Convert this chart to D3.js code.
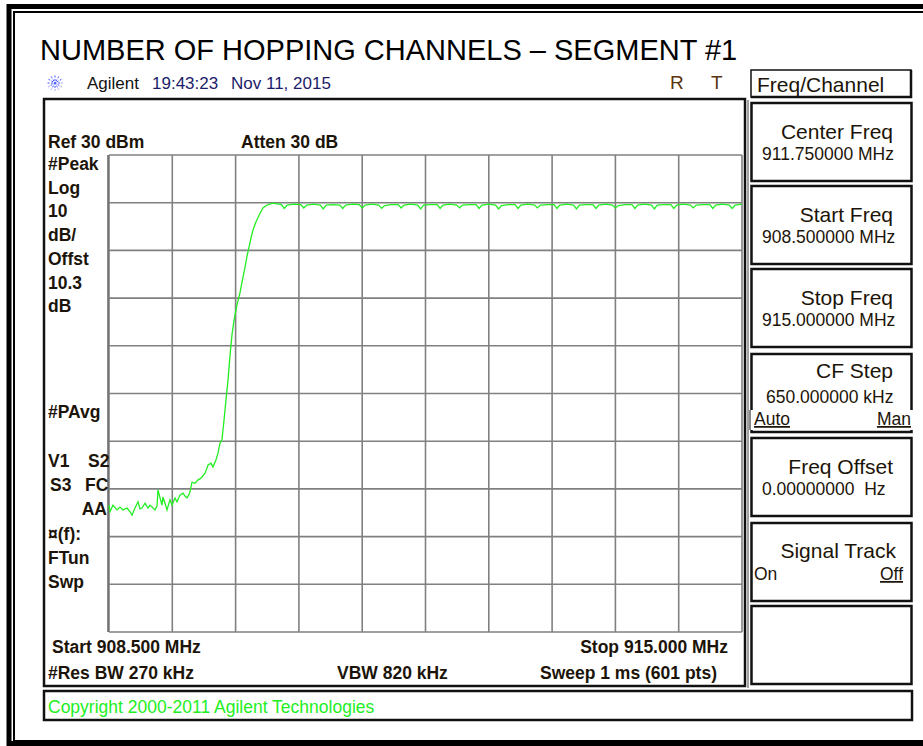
<!DOCTYPE html>
<html lang="en">
<head>
<meta charset="UTF-8">
<title>Number of Hopping Channels - Segment #1</title>
<script src="https://cdnjs.cloudflare.com/ajax/libs/d3/7.8.5/d3.min.js"></script>
<style>
    body { margin: 0; background: #fff; }
    svg { display: block; font-family: Arial, "Liberation Sans", sans-serif; }
</style>
</head>
<body>
<svg id="chart" width="923" height="746"></svg>
<script>
    // Analyzer settings
    const startMHz = 908.5;
    const stopMHz = 915.0;
    const refLevel = 30;      // dBm, top of screen
    const dbPerDiv = 10;
    const divisions = 10;

    // Trace: [MHz, dBm]
    const noiseFloor = [
        [908.500, -43.4], [908.510, -44.8], [908.541, -43.4], [908.582, -44.4], [908.613, -43.8],
        [908.644, -44.4], [908.685, -44.0], [908.716, -44.8], [908.736, -45.5], [908.767, -44.0],
        [908.798, -42.7], [908.818, -44.2], [908.839, -44.0], [908.870, -43.0], [908.900, -44.0],
        [908.921, -43.4], [908.942, -43.8], [908.972, -44.4], [908.993, -43.6], [909.003, -40.2],
        [909.024, -41.9], [909.044, -43.4], [909.054, -41.7], [909.075, -43.0], [909.096, -44.4],
        [909.126, -42.3], [909.147, -43.4], [909.178, -41.9], [909.198, -42.7], [909.229, -41.3],
        [909.260, -40.9], [909.280, -41.5], [909.301, -41.9], [909.322, -41.1], [909.332, -40.6]
    ];
    const rampUp = [
        [909.352, -38.6], [909.383, -38.8], [909.414, -38.1], [909.434, -37.9], [909.455, -37.5],
        [909.486, -36.7], [909.517, -35.0], [909.547, -34.6], [909.568, -35.4], [909.599, -33.9],
        [909.619, -32.5], [909.640, -30.4], [909.660, -29.7], [909.681, -25.6], [909.701, -21.4],
        [909.722, -17.2], [909.743, -11.9], [909.763, -7.7], [909.784, -4.6], [909.814, -1.4],
        [909.845, 1.1], [909.876, 4.4], [909.897, 6.5], [909.917, 8.8], [909.938, 10.7],
        [909.958, 12.6], [909.979, 14.3], [910.010, 16.0], [910.051, 17.8], [910.081, 18.9],
        [910.123, 19.5], [910.153, 19.7], [910.184, 19.9]
    ];
    const plateau = [
        [910.27, 19.6], [910.30, 18.8], [910.33, 19.5], [910.40, 19.7],
        [910.47, 19.6], [910.50, 18.9], [910.53, 19.5], [910.60, 19.7],
        [910.67, 19.5], [910.70, 18.7], [910.73, 19.5], [910.80, 19.6],
        [910.87, 19.5], [910.90, 18.8], [910.93, 19.5], [911.00, 19.7],
        [911.07, 19.6], [911.10, 18.9], [911.13, 19.5], [911.20, 19.7],
        [911.27, 19.5], [911.30, 18.8], [911.33, 19.4], [911.40, 19.6],
        [911.47, 19.6], [911.50, 18.9], [911.53, 19.5], [911.60, 19.7],
        [911.67, 19.5], [911.70, 18.7], [911.73, 19.5], [911.80, 19.6],
        [911.87, 19.6], [911.90, 18.8], [911.93, 19.5], [912.00, 19.7],
        [912.07, 19.5], [912.10, 18.9], [912.13, 19.5], [912.20, 19.6],
        [912.27, 19.6], [912.30, 18.8], [912.33, 19.5], [912.40, 19.7],
        [912.47, 19.5], [912.50, 18.7], [912.53, 19.4], [912.60, 19.6],
        [912.67, 19.6], [912.70, 18.8], [912.73, 19.5], [912.80, 19.7],
        [912.87, 19.5], [912.90, 18.9], [912.93, 19.5], [913.00, 19.6],
        [913.07, 19.6], [913.10, 18.8], [913.13, 19.5], [913.20, 19.7],
        [913.27, 19.5], [913.30, 18.7], [913.33, 19.5], [913.40, 19.6],
        [913.47, 19.6], [913.50, 18.8], [913.53, 19.5], [913.60, 19.7],
        [913.67, 19.5], [913.70, 18.9], [913.73, 19.4], [913.80, 19.6],
        [913.87, 19.6], [913.90, 18.8], [913.93, 19.5], [914.00, 19.7],
        [914.07, 19.5], [914.10, 18.7], [914.13, 19.5], [914.20, 19.6],
        [914.27, 19.6], [914.30, 18.8], [914.33, 19.5], [914.40, 19.7],
        [914.47, 19.5], [914.50, 18.9], [914.53, 19.5], [914.60, 19.6],
        [914.67, 19.6], [914.70, 18.8], [914.73, 19.5], [914.80, 19.7],
        [914.87, 19.5], [914.90, 18.8], [914.93, 19.5], [915.00, 19.7]
    ];

    // Screen annotations
    const leftLabels = ["#Peak", "Log", "10", "dB/", "Offst", "10.3", "dB"];
    const statusLabels = ["¤(f):", "FTun", "Swp"];
    const softKeys = [
        { title: "Center Freq", value: "911.750000 MHz" },
        { title: "Start Freq", value: "908.500000 MHz" },
        { title: "Stop Freq", value: "915.000000 MHz" },
        { title: "CF Step", value: "650.000000 kHz", left: "Auto", right: "Man" },
        { title: "Freq Offset", value: "0.00000000  Hz" },
        { title: "Signal Track", left: "On", right: "Off" },
        { title: "" }
    ];

    const svg = d3.select("#chart");
    const ink = "#1c1408";

    function txt(x, y, s, opt = {}) {
        return svg.append("text")
            .attr("x", x).attr("y", y)
            .attr("font-size", opt.size || 17)
            .attr("font-weight", opt.bold ? "bold" : "normal")
            .attr("text-anchor", opt.anchor || "start")
            .attr("fill", opt.fill || ink)
            .attr("xml:space", "preserve")
            .text(s);
    }

    // outer frame (runs off the right edge)
    svg.append("rect").attr("x", 9).attr("y", 6.5).attr("width", 930).attr("height", 737)
        .attr("fill", "none").attr("stroke", "#000").attr("stroke-width", 5);
    svg.append("rect").attr("x", 14).attr("y", 12).attr("width", 920).attr("height", 729)
        .attr("fill", "none").attr("stroke", "#000").attr("stroke-width", 2);

    txt(40, 60, "NUMBER OF HOPPING CHANNELS \u2013 SEGMENT #1", { size: 29, fill: "#000" });

    // Agilent logo
    const logo = svg.append("g").attr("transform", "translate(55,83)")
        .attr("stroke", "#4455ff").attr("stroke-width", 1).attr("stroke-dasharray", "2,1.5");
    d3.range(0, 180, 30).forEach(a => {
        const r = 7.5, t = a * Math.PI / 180;
        logo.append("line")
            .attr("x1", -r * Math.cos(t)).attr("y1", -r * Math.sin(t))
            .attr("x2", r * Math.cos(t)).attr("y2", r * Math.sin(t));
    });
    txt(87, 89, "Agilent", { size: 17, fill: "#111" });
    txt(152, 89, "19:43:23", { size: 17, fill: "#1c1c6a" });
    txt(231, 89, "Nov 11, 2015", { size: 17, fill: "#1c1c6a" });
    txt(670, 89, "R", { size: 19, fill: "#5c3310" });
    txt(711, 89, "T", { size: 19, fill: "#5c3310" });

    // main display panel
    svg.append("rect").attr("x", 44).attr("y", 99).attr("width", 701).attr("height", 587)
        .attr("fill", "none").attr("stroke", "#111").attr("stroke-width", 2.5);

    const x = d3.scaleLinear().domain([startMHz, stopMHz]).range([109, 742]);
    const y = d3.scaleLinear().domain([refLevel - dbPerDiv * divisions, refLevel]).range([632, 155]);

    const grid = svg.append("g").attr("stroke", "#808080").attr("stroke-width", 1.6);
    const step = (stopMHz - startMHz) / divisions;
    d3.range(divisions + 1).forEach(i => {
        const f = startMHz + i * step;
        grid.append("line").attr("x1", x(f)).attr("x2", x(f)).attr("y1", y.range()[1]).attr("y2", y.range()[0]);
        const l = refLevel - i * dbPerDiv;
        grid.append("line").attr("y1", y(l)).attr("y2", y(l)).attr("x1", x.range()[0]).attr("x2", x.range()[1]);
    });
    svg.append("line").attr("x1", x.range()[0] - 1).attr("x2", x.range()[0] - 1)
        .attr("y1", y.range()[1]).attr("y2", y.range()[0]).attr("stroke", "#666").attr("stroke-width", 1.5);

    const trace = noiseFloor.concat(rampUp, plateau);
    const line = d3.line().x(d => x(d[0])).y(d => y(d[1]));
    svg.append("path").datum(trace).attr("d", line)
        .attr("fill", "none").attr("stroke", "#22ee22").attr("stroke-width", 1.3);

    // annotations inside the panel
    txt(48, 148, "Ref 30 dBm", { bold: true, size: 17.5 });
    txt(241, 148, "Atten 30 dB", { bold: true, size: 17.5 });
    leftLabels.forEach((s, i) => txt(48, 170 + i * 23.7, s, { bold: true, size: 17.5 }));
    txt(48, 418, "#PAvg", { bold: true, size: 17.5 });
    txt(48, 467, "V1", { bold: true, size: 17.5 });
    txt(88, 467, "S2", { bold: true, size: 17.5 });
    txt(50, 491, "S3", { bold: true, size: 17.5 });
    txt(85, 491, "FC", { bold: true, size: 17.5 });
    txt(107, 515, "AA", { bold: true, size: 17.5, anchor: "end" });
    statusLabels.forEach((s, i) => txt(48, 540 + i * 24, s, { bold: true, size: 17.5 }));

    txt(52, 653, "Start 908.500 MHz", { bold: true, size: 17.5 });
    txt(728, 653, "Stop 915.000 MHz", { bold: true, size: 17.5, anchor: "end" });
    txt(48, 679, "#Res BW 270 kHz", { bold: true, size: 17.5 });
    txt(337, 679, "VBW 820 kHz", { bold: true, size: 17.5 });
    txt(717, 679, "Sweep 1 ms (601 pts)", { bold: true, size: 17.5, anchor: "end" });

    // footer
    svg.append("rect").attr("x", 44).attr("y", 691).attr("width", 868).attr("height", 29)
        .attr("fill", "none").attr("stroke", "#111").attr("stroke-width", 2.5);
    txt(48, 713, "Copyright 2000-2011 Agilent Technologies", { size: 17.5, fill: "#22ee22" });

    // soft keys
    svg.append("rect").attr("x", 751).attr("y", 70).attr("width", 160).attr("height", 27)
        .attr("fill", "none").attr("stroke", "#111").attr("stroke-width", 1.5);
    svg.append("path").attr("d", "M911,70 V97 H751").attr("fill", "none")
        .attr("stroke", "#111").attr("stroke-width", 2.5);
    txt(757, 92, "Freq/Channel", { size: 21, fill: ink });
    svg.append("line").attr("x1", 748).attr("x2", 748).attr("y1", 100).attr("y2", 688)
        .attr("stroke", "#444").attr("stroke-width", 1);

    const keyTops = [102, 185, 268, 353, 437, 522, 605];
    softKeys.forEach((k, i) => {
        const top = keyTops[i];
        svg.append("rect").attr("x", 751.5).attr("y", top + 1).attr("width", 160).attr("height", 78)
            .attr("fill", "none").attr("stroke", "#111").attr("stroke-width", 2.5);
        if (!k.title) return;
        const tb = k.value && !k.left ? 37 : (k.left && !k.value ? 36 : 25);
        txt(k.title === "Signal Track" ? 896 : 893, top + tb, k.title, { size: 21, anchor: "end" });
        if (k.value) {
            const vb = k.left ? 50 : 58;
            txt(k.left ? 766 : 762, top + vb, k.value, { size: 17.5 });
        }
        if (k.left) {
            const rowY = k.value ? top + 72 : top + 58;
            if (k.value) {
                svg.append("rect").attr("x", 750).attr("y", rowY - 15).attr("width", 164).attr("height", 20)
                    .attr("fill", "#fff");
                svg.append("line").attr("x1", 750).attr("x2", 750).attr("y1", rowY - 15).attr("y2", rowY + 5)
                    .attr("stroke", "#111").attr("stroke-width", 1);
            }
            txt(754, rowY, k.left, { size: 17.5 }).attr("text-decoration", k.value ? "underline" : "none");
            txt(k.value ? 911 : 903, rowY, k.right, { size: 17.5, anchor: "end" }).attr("text-decoration", "underline");
        }
    });
</script>
</body>
</html>
